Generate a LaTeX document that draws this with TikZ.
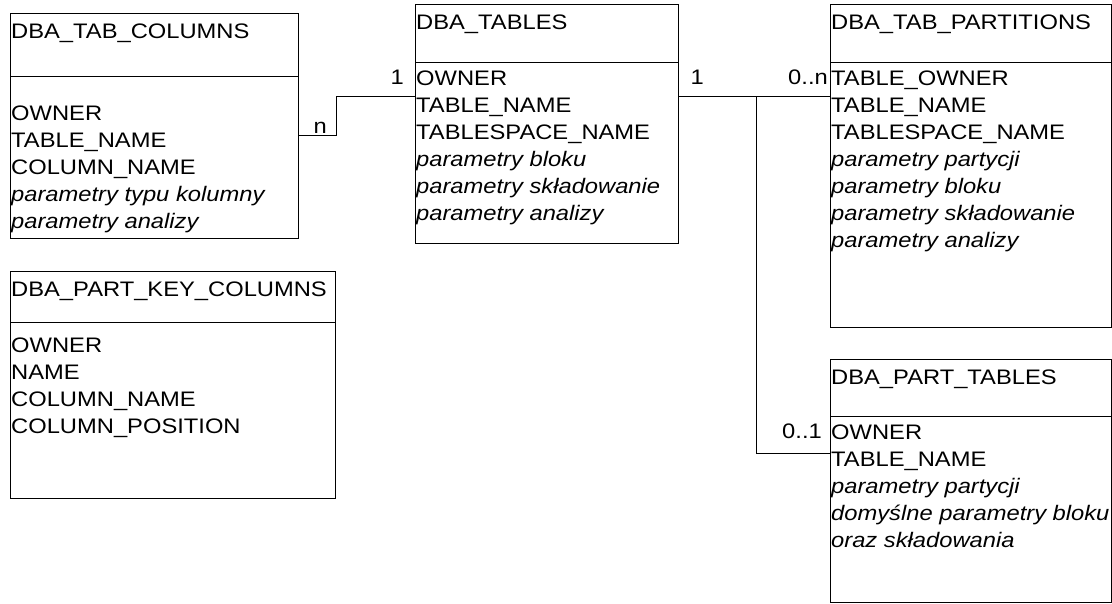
\documentclass[tikz,border=0pt]{standalone}
\usepackage{fontspec}
\setmainfont{Liberation Sans}[FakeStretch=1.13]
\begin{document}
\begin{tikzpicture}[x=1pt,y=-1pt,
  tbl/.style={draw=black, line width=1pt, fill=white, rectangle, inner sep=0pt, anchor=north west},
  txt/.style={anchor=base west, inner sep=0pt, font=\fontsize{21}{27}\selectfont, text=black},
  itx/.style={txt, font=\fontsize{21}{27}\selectfont\itshape},
  lbl/.style={anchor=base east, inner sep=0pt, font=\fontsize{21}{27}\selectfont, text=black},
  conn/.style={draw=black, line width=1pt}]
\useasboundingbox (0,0) rectangle (1112,603);
\begin{scope}
\clip (0,0) rectangle (1112,603);
% ---- DBA_TAB_COLUMNS
\node[tbl, minimum width=288pt, minimum height=225pt] (b1) at (10,13) {};
\draw[conn] (b1.west |- 0,76) -- (b1.east |- 0,76);
\node[txt] (b1t) at (11,38) {DBA\_TAB\_COLUMNS};
\node[txt] (b1a) at (11,120) {OWNER};
\node[txt] (b1b) at (11,147) {TABLE\_NAME};
\node[txt] (b1c) at (11,174) {COLUMN\_NAME};
\node[itx] (b1d) at (11,201) {parametry typu kolumny};
\node[itx] (b1e) at (11,228) {parametry analizy};
% ---- DBA_TABLES
\node[tbl, minimum width=263pt, minimum height=239pt] (b2) at (415,4) {};
\draw[conn] (b2.west |- 0,62) -- (b2.east |- 0,62);
\node[txt] (b2t) at (416,29) {DBA\_TABLES};
\node[txt] (b2a) at (416,85) {OWNER};
\node[txt] (b2b) at (416,112) {TABLE\_NAME};
\node[txt] (b2c) at (416,139) {TABLESPACE\_NAME};
\node[itx] (b2d) at (416,166) {parametry bloku};
\node[itx] (b2e) at (416,193) {parametry składowanie};
\node[itx] (b2f) at (416,220) {parametry analizy};
% ---- DBA_TAB_PARTITIONS
\node[tbl, minimum width=281pt, minimum height=323pt] (b3) at (830,4) {};
\draw[conn] (b3.west |- 0,62) -- (b3.east |- 0,62);
\node[txt] (b3t) at (831,29) {DBA\_TAB\_PARTITIONS};
\node[txt] (b3a) at (831,85) {TABLE\_OWNER};
\node[txt] (b3b) at (831,112) {TABLE\_NAME};
\node[txt] (b3c) at (831,139) {TABLESPACE\_NAME};
\node[itx] (b3d) at (831,166) {parametry partycji};
\node[itx] (b3e) at (831,193) {parametry bloku};
\node[itx] (b3f) at (831,220) {parametry składowanie};
\node[itx] (b3g) at (831,247) {parametry analizy};
% ---- DBA_PART_KEY_COLUMNS
\node[tbl, minimum width=325pt, minimum height=227pt] (b4) at (10,271) {};
\draw[conn] (b4.west |- 0,322) -- (b4.east |- 0,322);
\node[txt] (b4t) at (11,296) {DBA\_PART\_KEY\_COLUMNS};
\node[txt] (b4a) at (11,352) {OWNER};
\node[txt] (b4b) at (11,379) {NAME};
\node[txt] (b4c) at (11,406) {COLUMN\_NAME};
\node[txt] (b4d) at (11,433) {COLUMN\_POSITION};
% ---- DBA_PART_TABLES
\node[tbl, minimum width=281pt, minimum height=243pt] (b5) at (830,359) {};
\draw[conn] (b5.west |- 0,416) -- (b5.east |- 0,416);
\node[txt] (b5t) at (831,384) {DBA\_PART\_TABLES};
\node[txt] (b5a) at (831,439) {OWNER};
\node[txt] (b5b) at (831,466) {TABLE\_NAME};
\node[itx] (b5c) at (831,493) {parametry partycji};
\node[itx] (b5d) at (831,520) {domyślne parametry bloku};
\node[itx] (b5e) at (831,547) {oraz składowania};
% ---- connectors
\coordinate (k1) at (336,96);
\draw[conn] (b1.east |- 0,135) -| (k1) -- (b2.west |- k1);
\coordinate (j1) at (756,96);
\draw[conn] (b2.east |- j1) -- (b3.west |- j1);
\draw[conn] (j1) |- (b5.west |- 0,453);
% ---- labels
\node[lbl] (l1) at (404,84) {1};
\node[lbl] (ln) at (327,133) {n};
\node[lbl] (l2) at (704,84) {1};
\node[lbl] (l0n) at (828,84) {0..n};
\node[lbl] (l01) at (822,438) {0..1};
\end{scope}
\end{tikzpicture}
\end{document}
